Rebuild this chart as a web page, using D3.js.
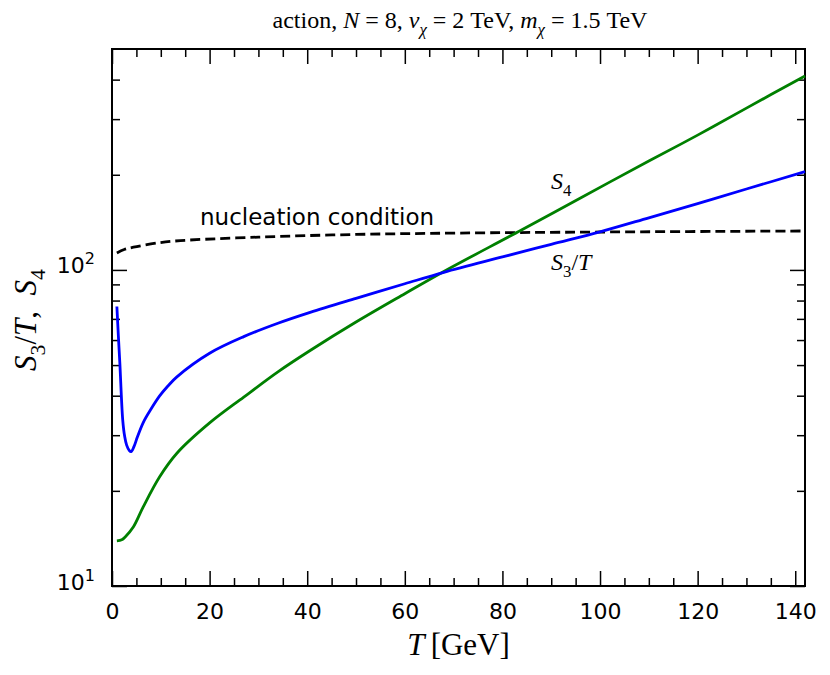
<!DOCTYPE html>
<html lang="en">
<head>
<meta charset="utf-8">
<title>action S3/T, S4</title>
<script src="https://d3js.org/d3.v7.min.js"></script>
<style>
  body { margin: 0; background: #fff; }
  .tick text { font-family: "DejaVu Sans", sans-serif; font-size: 22px; fill: #000; }
  .tick line { stroke: #000; stroke-width: 1.5px; }
  .serif { font-family: "Liberation Serif", "DejaVu Serif", serif; fill: #000; }
  .sans { font-family: "DejaVu Sans", sans-serif; fill: #000; }
</style>
</head>
<body>
<svg id="chart" width="830" height="675"></svg>
<script>
// S3/T curve (blue)
const tS3 = [1, 1.3, 1.6, 2.2, 2.6, 3, 3.5, 3.9, 4.5, 5.2, 6.4, 8, 9.8, 11.5, 13.3, 20, 27, 34, 40.6,
             50, 60, 68, 80, 90, 100, 110, 120, 130, 142];
const s3T = [76.6, 62, 51, 33.5, 29.7, 27.9, 26.9, 26.6, 27.6, 29.6, 32.9, 36.3, 40.0, 43.0, 45.9, 54.5, 61.5, 67.8, 73.4,
             81.3, 90.4, 98.3, 109.9, 120.5, 132, 146.2, 162.2, 180.3, 204.6];

// S4 curve (green)
const tS4 = [1, 2, 2.7, 4.4, 6.4, 9.8, 13.3, 20, 27, 34, 40.6, 50, 60, 68, 84, 96, 110, 120, 130, 142];
const s4  = [13.9, 14.0, 14.3, 15.4, 17.8, 22.2, 26.3, 32.8, 39.6, 47.6, 55.6, 68.4, 84.1, 98.9, 134, 169, 221, 267, 325, 411];

// nucleation condition (dashed)
const tNuc = [1, 2.5, 4.4, 9.8, 14, 30, 50, 71, 100, 142];
const nuc  = [113.2, 116, 118, 122, 123.8, 127, 129.5, 130.8, 131.8, 132.8];

// ticks
const xMajor = [0, 20, 40, 60, 80, 100, 120, 140];
const xMinor = [5, 10, 15, 25, 30, 35, 45, 50, 55, 65, 70, 75, 85, 90, 95, 105, 110, 115, 125, 130, 135];
const yMajor = [10, 100];
const yMajorExp = ["1", "2"];
const yMinor = [20, 30, 40, 50, 60, 70, 80, 90, 200, 300, 400];

const svg = d3.select("#chart");
const pLeft = 112, pRight = 805, pTop = 49, pBottom = 586;

const x = d3.scaleLinear().domain([0, 142]).range([pLeft, pRight]);
const y = d3.scaleLog().domain([10, 500]).range([pBottom, pTop]);

// rich text helper: parts = [text, kind] ; kind "i" italic, "sub" subscript
function richText(sel, parts, size) {
    let shift = 0;
    parts.forEach(function (p) {
        const sub = p[1].indexOf("sub") >= 0;
        const target = sub ? size * 0.28 : 0;
        sel.append("tspan")
            .text(p[0])
            .attr("dy", target - shift)
            .style("font-size", (sub ? size * 0.7 : size) + "px")
            .style("font-style", p[1].indexOf("i") >= 0 ? "italic" : "normal");
        shift = target;
    });
}

// axes (ticks inward on all sides)
function addAxis(axis, tr, vals, size, labels) {
    const g = svg.append("g").attr("transform", tr)
        .call(axis.tickValues(vals).tickSizeInner(-size).tickSizeOuter(0).tickPadding(17));
    if (!labels) g.selectAll("text").remove();
    g.select(".domain").remove();
    return g;
}
addAxis(d3.axisBottom(x), `translate(0,${pBottom})`, xMajor, 15, true);
addAxis(d3.axisBottom(x), `translate(0,${pBottom})`, xMinor, 8, false);
addAxis(d3.axisTop(x), `translate(0,${pTop})`, xMajor, 15, false);
addAxis(d3.axisTop(x), `translate(0,${pTop})`, xMinor, 8, false);
const gLeft = addAxis(d3.axisLeft(y), `translate(${pLeft},0)`, yMajor, 15, false);
addAxis(d3.axisLeft(y), `translate(${pLeft},0)`, yMinor, 8, false);
addAxis(d3.axisRight(y), `translate(${pRight},0)`, yMajor, 15, false);
addAxis(d3.axisRight(y), `translate(${pRight},0)`, yMinor, 8, false);

// log labels 10^n
gLeft.selectAll(".tick").each(function (d, i) {
    const t = d3.select(this).append("text")
        .attr("x", -17).attr("y", 3)
        .attr("text-anchor", "end");
    t.append("tspan").text("10");
    t.append("tspan").text(yMajorExp[i]).attr("dy", -9).style("font-size", "16px");
});

// frame
svg.append("rect")
    .attr("x", pLeft).attr("y", pTop)
    .attr("width", pRight - pLeft).attr("height", pBottom - pTop)
    .attr("fill", "none").attr("stroke", "#000").attr("stroke-width", 2);

// curves
const line = d3.line()
    .x(d => x(d[0]))
    .y(d => y(d[1]))
    .curve(d3.curveCatmullRom.alpha(0.5));

svg.append("path")
    .attr("d", line(d3.zip(tNuc, nuc)))
    .attr("fill", "none").attr("stroke", "#000")
    .attr("stroke-width", 2.8).attr("stroke-dasharray", "10,5");

svg.append("path")
    .attr("d", line(d3.zip(tS4, s4)))
    .attr("fill", "none").attr("stroke", "#008000").attr("stroke-width", 2.8);

svg.append("path")
    .attr("d", line(d3.zip(tS3, s3T)))
    .attr("fill", "none").attr("stroke", "#0000ff").attr("stroke-width", 2.8);

// annotations
svg.append("text").attr("class", "sans")
    .attr("x", 200).attr("y", 225)
    .style("font-size", "23px")
    .text("nucleation condition");

richText(svg.append("text").attr("class", "serif").attr("x", 551).attr("y", 189),
    [["S", "i"], ["4", "sub"]], 24);
richText(svg.append("text").attr("class", "serif").attr("x", 551).attr("y", 270),
    [["S", "i"], ["3", "sub"], ["/", ""], ["T", "i"]], 24);

// title
richText(svg.append("text").attr("class", "serif")
        .attr("x", 460).attr("y", 28).attr("text-anchor", "middle"),
    [["action,  ", ""], ["N", "i"], [" = 8,  ", ""], ["v", "i"], ["χ", "isub"],
     [" = 2 TeV, ", ""], ["m", "i"], ["χ", "isub"], [" = 1.5 TeV", ""]], 24);

// x label
richText(svg.append("text").attr("class", "serif")
        .attr("x", (pLeft + pRight) / 2).attr("y", 655).attr("text-anchor", "middle"),
    [["T", "i"], ["\u2009[GeV]", ""]], 31);

// y label
richText(svg.append("text").attr("class", "serif")
        .attr("transform", `translate(36,320) rotate(-90)`)
        .attr("text-anchor", "middle"),
    [["S", "i"], ["3", "sub"], ["/", ""], ["T", "i"], [",\u2002", ""], ["S", "i"], ["4", "sub"]], 31);
</script>
</body>
</html>
